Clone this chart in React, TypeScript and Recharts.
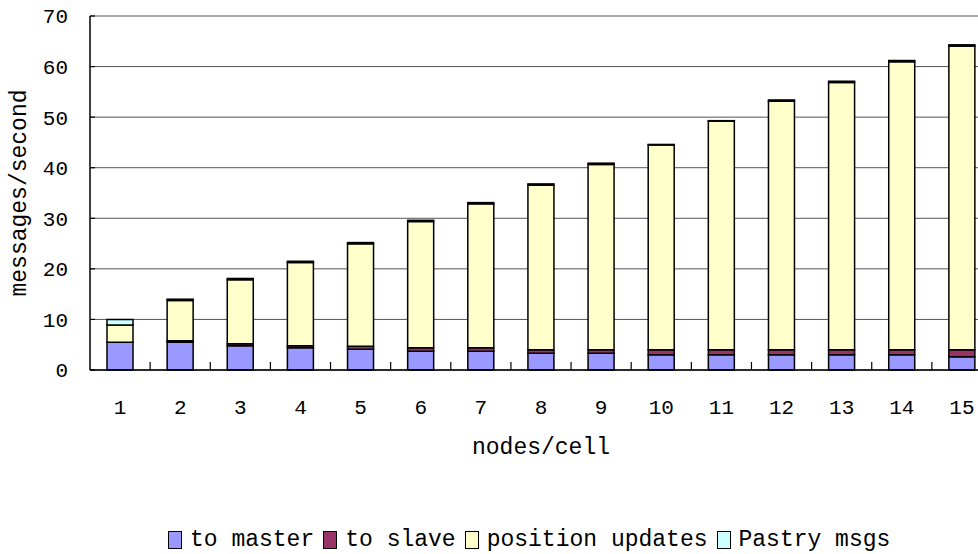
import { BarChart, Bar, XAxis, YAxis, CartesianGrid, Legend, Label } from "recharts";

// messages per second by cell size
const nodesPerCell = ["1", "2", "3", "4", "5", "6", "7", "8", "9", "10", "11", "12", "13", "14", "15"];
const toMaster = [5.5, 5.5, 4.8, 4.4, 4.1, 3.7, 3.7, 3.3, 3.3, 3.0, 3.0, 3.0, 3.0, 3.0, 2.6];
const toSlave = [0, 0.3, 0.4, 0.4, 0.6, 0.7, 0.7, 0.7, 0.7, 1.0, 1.0, 1.0, 1.0, 1.0, 1.4];
const positionUpdates = [3.4, 7.95, 12.65, 16.45, 20.25, 24.95, 28.45, 32.55, 36.65, 40.5, 45.2, 49.15, 52.85, 56.95, 60.05];
const pastryMsgs = [1.1, 0.25, 0.25, 0.25, 0.25, 0.25, 0.25, 0.25, 0.25, 0.1, 0.1, 0.25, 0.25, 0.25, 0.25];
const yTicks = [0, 10, 20, 30, 40, 50, 60, 70];

const series = [
  { key: "master", name: "to master", color: "#9999ff" },
  { key: "slave", name: "to slave", color: "#993366" },
  { key: "position", name: "position updates", color: "#ffffcc" },
  { key: "pastry", name: "Pastry msgs", color: "#ccffff" },
];

const data = nodesPerCell.map((n, i) => ({
  n,
  master: toMaster[i],
  slave: toSlave[i],
  position: positionUpdates[i],
  pastry: pastryMsgs[i],
}));

const FONT = '"Liberation Mono", "DejaVu Sans Mono", monospace';
const X_TICK_MARGIN = 29;

// category label plus a short inward tick on the right edge of each band
function NodeTick(props: any) {
  const { x, y, payload, index, visibleTicksCount } = props;
  const axisY = y - X_TICK_MARGIN;
  const edge = x + (payload.offset ?? 0);
  return (
    <g>
      {index < visibleTicksCount - 1 && (
        <line x1={edge} x2={edge} y1={axisY} y2={axisY - 8} stroke="#000" strokeWidth={1.2} />
      )}
      <text x={x} y={y} dy="0.71em" textAnchor="middle" fontFamily={FONT} fontSize={21} fill="#000">
        {payload.value}
      </text>
    </g>
  );
}

function LegendBox() {
  return (
    <div style={{ display: "flex", alignItems: "center", height: 28, fontFamily: FONT, fontSize: 23, color: "#000" }}>
      {series.map((s) => (
        <div key={s.key} style={{ display: "flex", alignItems: "center", marginRight: 9 }}>
          <span
            style={{
              display: "inline-block",
              width: 12,
              height: 16,
              background: s.color,
              border: "1.5px solid #000",
              marginRight: 8,
            }}
          />
          <span>{s.name}</span>
        </div>
      ))}
    </div>
  );
}

export default function App() {
  return (
    <div style={{ position: "absolute", left: 0, top: 0, width: 978, height: 554, overflow: "hidden", background: "#fff" }}>
      <BarChart width={1000} height={554} data={data} margin={{ top: 16, right: 8, bottom: 0, left: 0 }} barSize={26}>
        <CartesianGrid vertical={false} stroke="#555" strokeWidth={1} />
        <XAxis
          dataKey="n"
          height={156}
          tickLine={false}
          tickSize={0}
          tickMargin={X_TICK_MARGIN}
          tick={<NodeTick />}
          axisLine={{ stroke: "#000", strokeWidth: 1.5 }}
          interval={0}
        >
          <Label
            content={({ viewBox }: any) => (
              <text
                x={viewBox.x + viewBox.width / 2}
                y={viewBox.y + 84}
                textAnchor="middle"
                fontFamily={FONT}
                fontSize={23}
                fill="#000"
              >
                nodes/cell
              </text>
            )}
          />
        </XAxis>
        <YAxis
          width={90}
          domain={[0, 70]}
          ticks={yTicks}
          interval={0}
          tickSize={-5}
          tickMargin={27}
          tickLine={{ stroke: "#000", strokeWidth: 1.2 }}
          axisLine={{ stroke: "#000", strokeWidth: 1.5 }}
          tick={{ fontFamily: FONT, fontSize: 21, fill: "#000" }}
        >
          <Label
            content={({ viewBox }: any) => {
              const cx = 20;
              const cy = viewBox.y + viewBox.height / 2;
              return (
                <text
                  x={cx}
                  y={cy}
                  transform={`rotate(-90, ${cx}, ${cy})`}
                  textAnchor="middle"
                  dominantBaseline="central"
                  fontFamily={FONT}
                  fontSize={23}
                  fill="#000"
                >
                  messages/second
                </text>
              );
            }}
          />
        </YAxis>
        <Legend verticalAlign="bottom" wrapperStyle={{ left: 168, width: "auto" }} content={() => <LegendBox />} />
        {series.map((s) => (
          <Bar
            key={s.key}
            dataKey={s.key}
            name={s.name}
            stackId="a"
            fill={s.color}
            stroke="#000"
            strokeWidth={1.5}
            isAnimationActive={false}
          />
        ))}
      </BarChart>
    </div>
  );
}
